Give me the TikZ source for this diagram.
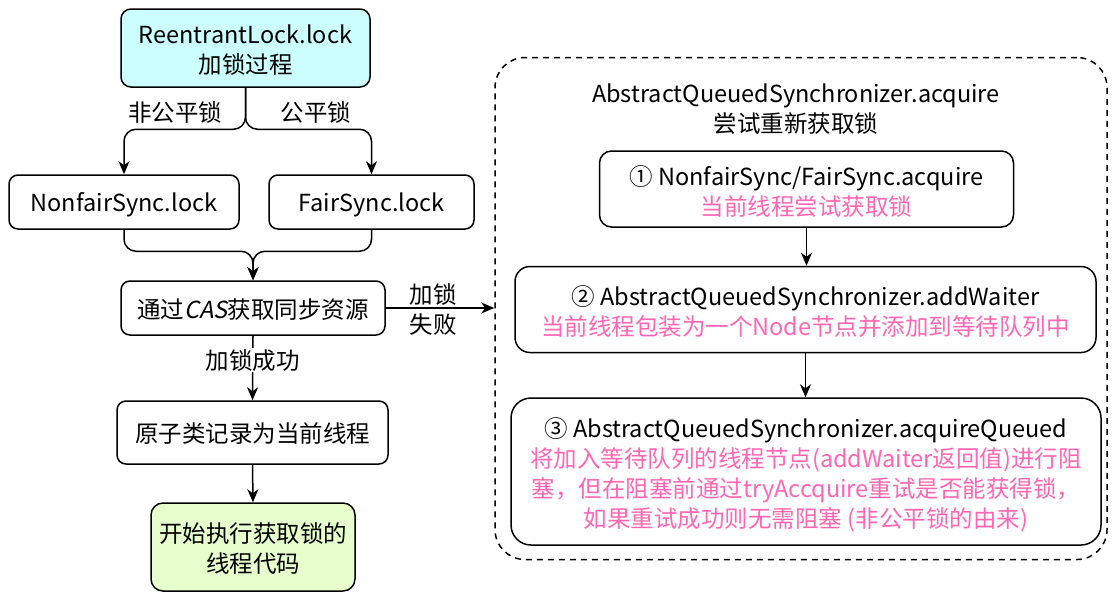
\documentclass[tikz,border=0pt]{standalone}
\usepackage{fontspec}
\setmainfont{Noto Sans CJK SC}
\newfontfamily\slfont[FakeSlant=0.2]{Noto Sans CJK SC}
\usetikzlibrary{arrows.meta}
\definecolor{pinkt}{HTML}{FF66B3}
\definecolor{cyanf}{HTML}{CCFFFF}
\definecolor{greenf}{HTML}{E6FFCC}
\begin{document}
\begin{tikzpicture}[x=1pt,y=-1pt,
  font=\fontsize{23.5}{30}\selectfont,
  box/.style={draw, line width=1.5pt, rounded corners=#1, inner sep=0pt},
  box/.default=9pt,
  arr/.style={line width=1.5pt, -{Stealth[length=13pt,width=11pt,inset=4pt]}},
  lbl/.style={inner sep=1pt, align=center}]
\useasboundingbox[fill=white] (0,0) rectangle (1118,598);

% dashed container
\node[box=30pt, dash pattern=on 6pt off 5pt, minimum width=612pt, minimum height=502pt] (cont) at (801,308.5) {};
\node[lbl] (ctitle) at (796,109) {AbstractQueuedSynchronizer.acquire\\尝试重新获取锁};

% left column
\node[box=10pt, fill=cyanf, minimum width=249pt, minimum height=78pt] (top) at (245.5,48) {};
\node[lbl] (topt) at ([yshift=-2.5pt]top.center) {ReentrantLock.lock\\加锁过程};
\node[box, minimum width=230pt, minimum height=54pt] (nf) at (124,202) {};
\node[lbl] (nft) at ([yshift=-2.5pt]nf.center) {NonfairSync.lock};
\node[box, minimum width=205pt, minimum height=54pt] (fair) at (371.5,202) {};
\node[lbl] (fairt) at ([yshift=-2.5pt]fair.center) {FairSync.lock};
\node[box, minimum width=264pt, minimum height=54pt] (cas) at (253,308) {};
\node[lbl] (cast) at ([yshift=-1.5pt]cas.center) {通过{\slfont CAS}获取同步资源};
\node[box, minimum width=271pt, minimum height=63pt] (atom) at (252.5,432.5) {};
\node[lbl] (atomt) at ([yshift=-1pt]atom.center) {原子类记录为当前线程};
\node[box=12pt, fill=greenf, minimum width=204pt, minimum height=88pt] (run) at (253,547) {};
\node[lbl] (runt) at ([yshift=-2pt]run.center) {开始执行获取锁的\\线程代码};

% right column
\node[box=12pt, minimum width=414pt, minimum height=76pt] (b1) at (806.5,189) {};
\node[lbl] (b1t) at ([yshift=-2.5pt]b1.center) {① NonfairSync/FairSync.acquire\\\textcolor{pinkt}{当前线程尝试获取锁}};
\node[box=15pt, minimum width=581pt, minimum height=86pt] (b2) at (805.5,309.5) {};
\node[lbl] (b2t) at ([yshift=-2.5pt]b2.center) {② AbstractQueuedSynchronizer.addWaiter\\\textcolor{pinkt}{当前线程包装为一个Node节点并添加到等待队列中}};
\node[box=20pt, minimum width=590pt, minimum height=147pt] (b3) at (806,471.5) {};
\node[lbl] (b3t) at ([yshift=-3.5pt]b3.center) {③ AbstractQueuedSynchronizer.acquireQueued\\\textcolor{pinkt}{将加入等待队列的线程节点(addWaiter返回值)进行阻}\\\textcolor{pinkt}{塞，但在阻塞前通过tryAccquire重试是否能获得锁，}\\\textcolor{pinkt}{如果重试成功则无需阻塞 (非公平锁的由来)}};

% connectors
\draw[arr, rounded corners=12pt] (top.south) |- ([yshift=45pt]nf.north) -- (nf.north);
\draw[arr, rounded corners=12pt] (top.south) |- ([yshift=45pt]fair.north) -- (fair.north);
\node[lbl] (lnf) at (175,113) {非公平锁};
\node[lbl] (lf) at (316,113) {公平锁};

\draw[arr, rounded corners=12pt] (nf.south) |- ([yshift=29pt]cas.north) -- (cas.north);
\draw[arr, rounded corners=12pt] (fair.south) |- ([yshift=29pt]cas.north) -- (cas.north);

\draw[arr] (cas.south) -- node[lbl, pos=0.38, fill=white] (lok) {加锁成功} (atom.north);
\draw[arr] (atom.south) -- (run.north);

\draw[arr] (cas.east) -- (cas.east -| cont.west);
\node[lbl] (lfail) at (433,310) {加锁\\失败};

\draw[arr] (b1.south) -- (b1.south |- b2.north);
\draw[arr] (b2.south) -- (b2.south |- b3.north);
\end{tikzpicture}
\end{document}
